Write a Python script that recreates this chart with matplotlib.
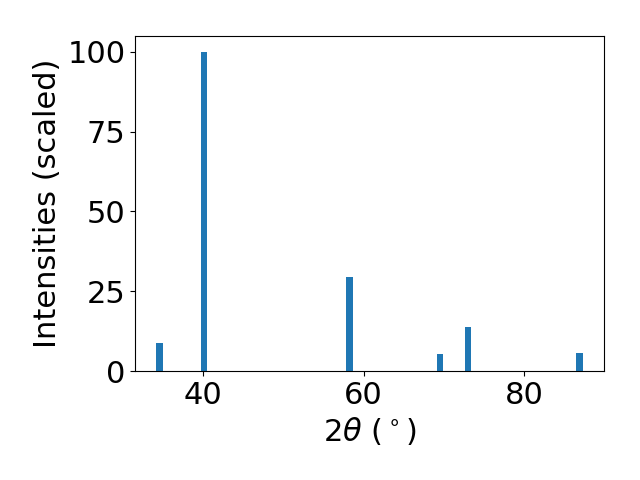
import matplotlib
matplotlib.use("Agg")
import matplotlib.pyplot as plt

two_theta = [34.6, 40.15, 58.25, 69.5, 73.0, 86.9]
intensity = [8.8, 100.0, 29.5, 5.3, 13.8, 5.6]

fig, ax = plt.subplots(figsize=(6.4, 4.8), dpi=100)
ax.bar(two_theta, intensity, width=0.8, color="#1f77b4")
ax.set_xlabel(r"$2\theta$ ($^\circ$)", fontsize=22)
ax.set_ylabel("Intensities (scaled)", fontsize=22)
ax.tick_params(labelsize=22)
ax.set_yticks([0, 25, 50, 75, 100])
ax.set_xticks([40, 60, 80])
fig.subplots_adjust(left=0.211, right=0.944, bottom=0.227, top=0.925)
fig.savefig("out.png")
